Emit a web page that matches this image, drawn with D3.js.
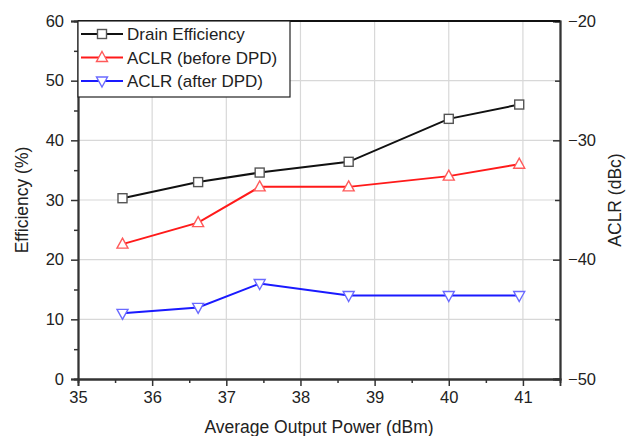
<!DOCTYPE html>
<html>
<head>
<meta charset="utf-8">
<script src="https://cdn.jsdelivr.net/npm/d3@7"></script>
<style>
  body { margin: 0; background: #fff; }
  text { font-family: "Liberation Sans", Arial, sans-serif; fill: #222; }
</style>
</head>
<body>
<svg id="chart"></svg>
<script>
// data
const power = [35.6, 36.62, 37.45, 38.65, 40.0, 40.95];
const efficiency = [30.3, 33.0, 34.6, 36.4, 43.6, 46.0];
const aclrBefore = [-38.7, -36.9, -33.9, -33.9, -33.0, -32.0];
const aclrAfter = [-44.5, -44.0, -42.0, -43.0, -43.0, -43.0];
const xTicks = [35, 36, 37, 38, 39, 40, 41];
const leftTicks = [0, 10, 20, 30, 40, 50, 60];
const rightTicks = [-50, -40, -30, -20];
const legendNames = ["Drain Efficiency", "ACLR (before DPD)", "ACLR (after DPD)"];

const width = 626;
const height = 436;
const margin = { top: 21, right: 66, bottom: 57, left: 78 };

const svg = d3.select("#chart").attr("width", width).attr("height", height);

const x = d3.scaleLinear().domain([35, 41.5]).range([margin.left, width - margin.right]);
const yL = d3.scaleLinear().domain([0, 60]).range([height - margin.bottom, margin.top]);
const yR = d3.scaleLinear().domain([-50, -20]).range([height - margin.bottom, margin.top]);

const x0 = margin.left, x1 = width - margin.right;
const y0 = height - margin.bottom, y1 = margin.top;

// grid
svg.append("g")
  .selectAll("line")
  .data(xTicks.slice(1))
  .enter()
  .append("line")
  .attr("x1", (d) => x(d)).attr("x2", (d) => x(d))
  .attr("y1", y0).attr("y2", y1)
  .attr("stroke", "#d8d8d8").attr("stroke-width", 1.2);

svg.append("g")
  .selectAll("line")
  .data(leftTicks.slice(1, -1))
  .enter()
  .append("line")
  .attr("x1", x0).attr("x2", x1)
  .attr("y1", (d) => yL(d)).attr("y2", (d) => yL(d))
  .attr("stroke", "#d8d8d8").attr("stroke-width", 1.2);

// axes
const xAxis = d3.axisBottom(x).tickValues(xTicks).tickSize(7).tickPadding(5).tickFormat(d3.format("d"));
const xMinor = d3.axisBottom(x).tickValues(d3.range(35.5, 41.5, 1)).tickSize(4).tickFormat("");
const yAxisL = d3.axisLeft(yL).tickValues(leftTicks).tickSize(7).tickPadding(7);
const yMinorL = d3.axisLeft(yL).tickValues([5, 15, 25, 35, 45, 55]).tickSize(4).tickFormat("");
const yAxisR = d3.axisRight(yR).tickValues(rightTicks).tickSize(-7).tickPadding(8);
const yMinorR = d3.axisRight(yR).tickValues([-45, -35, -25]).tickSize(-5).tickFormat("");

function style(g) {
  g.select(".domain").attr("stroke", "#333").attr("stroke-width", 1.8);
  g.selectAll(".tick line").attr("stroke", "#333").attr("stroke-width", 1.5);
  g.selectAll(".tick text").attr("font-size", "16.5px").attr("fill", "#222");
}

svg.append("g").attr("transform", `translate(0,${y0})`).call(xAxis).call(style);
svg.append("g").attr("transform", `translate(0,${y0})`).call(xMinor).call(style);
svg.append("g").attr("transform", `translate(${x0},0)`).call(yAxisL).call(style);
svg.append("g").attr("transform", `translate(${x0},0)`).call(yMinorL).call(style);
svg.append("g").attr("transform", `translate(${x1},0)`).call(yAxisR).call(style);
svg.append("g").attr("transform", `translate(${x1},0)`).call(yMinorR).call(style);

// top border
svg.append("line")
  .attr("x1", x0).attr("x2", x1).attr("y1", y1).attr("y2", y1)
  .attr("stroke", "#111").attr("stroke-width", 1.8);

// series
const series = [
  { name: legendNames[0], vals: efficiency, y: yL, line: "#111", mark: "#555", shape: "square" },
  { name: legendNames[1], vals: aclrBefore, y: yR, line: "#ff1a1a", mark: "#ff5a5a", shape: "up" },
  { name: legendNames[2], vals: aclrAfter, y: yR, line: "#1a1aff", mark: "#6a6aff", shape: "down" },
];

function marker(g, shape, color) {
  if (shape === "square") {
    g.append("rect").attr("x", -4.5).attr("y", -4.5).attr("width", 9).attr("height", 9)
      .attr("fill", "#fff").attr("stroke", color).attr("stroke-width", 1.4);
  } else {
    const pts = shape === "up" ? "0,-6 5.5,4 -5.5,4" : "0,6 5.5,-4 -5.5,-4";
    g.append("polygon").attr("points", pts)
      .attr("fill", "#fff").attr("stroke", color).attr("stroke-width", 1.4);
  }
}

series.forEach((s) => {
  const line = d3.line().x((d, i) => x(power[i])).y((d) => s.y(d));
  svg.append("path").datum(s.vals).attr("d", line)
    .attr("fill", "none").attr("stroke", s.line).attr("stroke-width", 2);
  s.vals.forEach((v, i) => {
    const g = svg.append("g").attr("transform", `translate(${x(power[i])},${s.y(v)})`);
    marker(g, s.shape, s.mark);
  });
});

// legend
const legend = svg.append("g");
legend.append("rect")
  .attr("x", x0).attr("y", y1).attr("width", 212).attr("height", 76)
  .attr("fill", "#fff").attr("stroke", "#222").attr("stroke-width", 1.2);

series.forEach((s, i) => {
  const ly = 34 + i * 23.5;
  legend.append("line").attr("x1", 81).attr("x2", 123).attr("y1", ly).attr("y2", ly)
    .attr("stroke", s.line).attr("stroke-width", 2);
  const g = legend.append("g").attr("transform", `translate(102,${ly})`);
  marker(g, s.shape, s.mark);
  legend.append("text").attr("x", 127).attr("y", ly + 6)
    .attr("font-size", "17px").text(s.name);
});

// axis titles
svg.append("text")
  .attr("x", (x0 + x1) / 2).attr("y", 433)
  .attr("text-anchor", "middle").attr("font-size", "17.5px")
  .text("Average Output Power (dBm)");

svg.append("text")
  .attr("transform", `translate(28, ${(y0 + y1) / 2}) rotate(-90)`)
  .attr("text-anchor", "middle").attr("font-size", "17.5px")
  .text("Efficiency (%)");

svg.append("text")
  .attr("transform", `translate(621, ${(y0 + y1) / 2}) rotate(-90)`)
  .attr("text-anchor", "middle").attr("font-size", "17.5px")
  .text("ACLR (dBc)");
</script>
</body>
</html>
